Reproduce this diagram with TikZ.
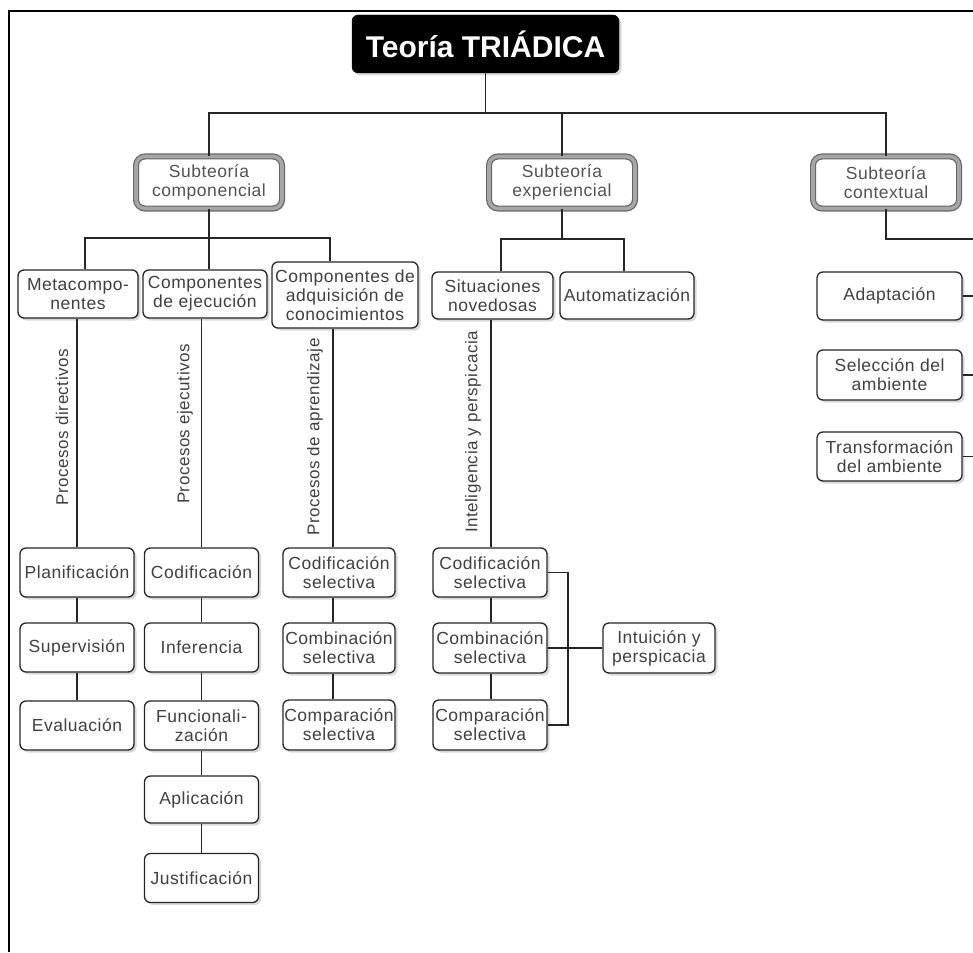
\documentclass[tikz,border=0pt]{standalone}
\usepackage{fontspec}
\setmainfont{Liberation Sans}
\newfontfamily\boxfont[LetterSpace=3]{Liberation Sans}
\usetikzlibrary{shadows}

\tikzset{
  leaf/.style={draw=black!85, line width=1.3pt, rounded corners=6pt, fill=white,
    align=center, inner sep=1pt, text=black!75,
    font=\boxfont\fontsize{17.5}{19}\selectfont,
    drop shadow={opacity=0.3, shadow xshift=2.5pt, shadow yshift=-2.5pt}},
  subbox/.style={draw=black!60, double=black!35, double distance=3.6pt,
    line width=1.2pt, rounded corners=9pt, fill=white,
    align=center, inner sep=1pt, text=black!68,
    minimum width=146pt, minimum height=52pt,
    font=\boxfont\fontsize{17.5}{19}\selectfont,
    drop shadow={opacity=0.3, shadow xshift=2.5pt, shadow yshift=-2.5pt}},
  titlebox/.style={fill=black, draw=black, rounded corners=6pt, text=white,
    minimum width=267pt, minimum height=58pt,
    font=\bfseries\fontsize{30}{32}\selectfont,
    drop shadow={opacity=0.3, shadow xshift=2.5pt, shadow yshift=-2.5pt}},
  link/.style={draw=black!85, line width=1.2pt},
  frameline/.style={draw=black, line width=2pt},
  vlabel/.style={rotate=90, text=black!75, inner sep=0pt,
    font=\boxfont\fontsize{17}{19}\selectfont},
  w113/.style={minimum width=114pt, minimum height=49pt},
}

\begin{document}
\begin{tikzpicture}[x=1pt,y=-1pt]
\useasboundingbox (0,0) rectangle (973,952);

% outer frame
\coordinate (fa) at (9,952);
\coordinate (fb) at (9,11);
\coordinate (fc) at (973,11);
\draw[frameline] (fa) -- (fb) -- (fc);

% title and the three subtheories
\node[titlebox] (T) at (485.5,44) {Teoría TRIÁDICA};
\node[subbox] (S1) at (209,182.5) {Subteoría\\componencial};
\node[subbox] (S2) at (562,182.5) {Subteoría\\experiencial};
\node[subbox] (S3) at (886,182.5) {Subteoría\\contextual};

\coordinate (hub) at (485.5,113);
\draw[link] (T.south) -- (hub);
\draw[link] (S1.north) |- (hub) -| (S3.north);
\draw[link] (S2.north) -- (S2.north |- hub);

% componential subtheory
\node[leaf, minimum width=120pt, minimum height=48pt] (M1) at (78,294) {Metacompo-\\nentes};
\node[leaf, minimum width=124pt, minimum height=48pt] (E1) at (205,294) {Componentes\\de ejecución};
\node[leaf, minimum width=146pt, minimum height=66pt] (A1) at (345,295) {Componentes de\\adquisición de\\conocimientos};

\coordinate (h1) at (207,238);
\draw[link] (S1.south) -- (S1.south |- E1.north);
\draw[link] ([xshift=7pt]M1.north) |- (h1) -| ([xshift=-15pt]A1.north);

% metacomponents column
\node[leaf, w113] (P1) at (77,572.5) {Planificación};
\node[leaf, w113] (P2) at (77,647.5) {Supervisión};
\node[leaf, w113] (P3) at (77,725.5) {Evaluación};
\draw[link] (P1.north) -- (P1.north |- M1.south);
\draw[link] (P1) -- (P2);
\draw[link] (P2) -- (P3);
\node[vlabel] (L1) at (62,427) {Procesos directivos};

% performance components column
\node[leaf, w113] (C1) at (201.5,572.5) {Codificación};
\node[leaf, w113] (C2) at (201.5,647.5) {Inferencia};
\node[leaf, w113] (C3) at (201.5,725.5) {Funcionali-\\zación};
\node[leaf, minimum width=114pt, minimum height=47pt] (C4) at (201.5,799.5) {Aplicación};
\node[leaf, w113] (C5) at (201.5,878) {Justificación};
\draw[link] (C1.north) -- (C1.north |- E1.south);
\draw[link] (C1) -- (C2);
\draw[link] (C2) -- (C3);
\draw[link] (C3) -- (C4);
\draw[link] (C4) -- (C5);
\node[vlabel] (L2) at (185,424) {Procesos ejecutivos};

% knowledge-acquisition column
\coordinate (k3) at (333,0);
\node[leaf, minimum width=112pt, minimum height=49pt] (Q1) at (339,572.5) {Codificación\\selectiva};
\node[leaf, minimum width=112pt, minimum height=50pt] (Q2) at (339,648) {Combinación\\selectiva};
\node[leaf, minimum width=112pt, minimum height=50pt] (Q3) at (339,725) {Comparación\\selectiva};
\draw[link] (A1.south -| k3) -- (Q1.north -| k3);
\draw[link] (Q1.south -| k3) -- (Q2.north -| k3);
\draw[link] (Q2.south -| k3) -- (Q3.north -| k3);
\node[vlabel] (L3) at (315,437) {Procesos de aprendizaje};

% experiential subtheory
\node[leaf, minimum width=121pt, minimum height=47pt] (N1) at (492.5,295.5) {Situaciones\\novedosas};
\node[leaf, minimum width=134pt, minimum height=47pt] (Au) at (627,295.5) {Automatización};
\coordinate (h2) at (562,239);
\draw[link] (S2.south) -- (h2);
\draw[link] ([xshift=8.5pt]N1.north) |- (h2) -| ([xshift=-3pt]Au.north);

\coordinate (k4) at (491,0);
\node[leaf, minimum width=114pt, minimum height=49pt] (R1) at (490,572.5) {Codificación\\selectiva};
\node[leaf, minimum width=114pt, minimum height=50pt] (R2) at (490,648) {Combinación\\selectiva};
\node[leaf, minimum width=114pt, minimum height=50pt] (R3) at (490,725) {Comparación\\selectiva};
\draw[link] (N1.south -| k4) -- (R1.north -| k4);
\draw[link] (R1.south -| k4) -- (R2.north -| k4);
\draw[link] (R2.south -| k4) -- (R3.north -| k4);
\node[vlabel] (L4) at (473,432) {Inteligencia y perspicacia};

\node[leaf, minimum width=112pt, minimum height=50pt] (I1) at (659,648) {Intuición y\\perspicacia};
\coordinate (br) at (568,0);
\draw[link] (R1.east) -| (R3.east -| br) -- (R3.east);
\draw[link] (R2.east) -- (I1.west);

% contextual subtheory
\node[leaf, minimum width=145pt, minimum height=48pt] (X1) at (889.5,296) {Adaptación};
\node[leaf, minimum width=145pt, minimum height=50pt] (X2) at (889.5,375) {Selección del\\ambiente};
\node[leaf, minimum width=145pt, minimum height=49pt] (X3) at (889.5,456.5) {Transformación\\del ambiente};
\coordinate (h3) at (973,239);
\coordinate (edge) at (973,0);
\draw[link] (S3.south) |- (h3);
\draw[link] (X1.east) -- (X1.east -| edge);
\draw[link] (X2.east) -- (X2.east -| edge);
\draw[link] (X3.east) -- (X3.east -| edge);
\end{tikzpicture}
\end{document}
